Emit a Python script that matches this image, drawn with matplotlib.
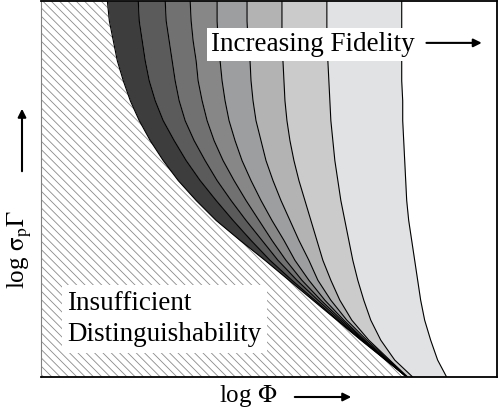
import numpy as np
import matplotlib
matplotlib.use("Agg")
import matplotlib.pyplot as plt
from matplotlib.patches import FancyArrowPatch

plt.rcParams["font.family"] = ["Liberation Serif", "DejaVu Serif"]
plt.rcParams["mathtext.fontset"] = "stix"
plt.rcParams["hatch.linewidth"] = 0.6
plt.rcParams["hatch.color"] = "#8a8a8a"

# rows of log(sigma_p Gamma), arbitrary units (0 = bottom of plot, 377 = top)
log_sg = [377, 357, 337, 317, 297, 277, 257, 237, 217, 197,
          177, 157, 137, 117, 97, 77, 57, 37, 17, 0]

# log(Phi) of each contour on those rows (arbitrary units, 0..457)
edge_insufficient = [67, 69, 73, 77, 83, 90, 99, 110, 123, 138,
                     156, 176, 200, 225, 249, 273, 297, 321, 346, 367]
fid_1 = [98, 99, 102, 105, 109, 115, 123, 134, 146, 160,
         176, 193, 211, 230, 252, 275, 298, 322, 346, 367]
fid_2 = [125, 126, 129, 132, 135, 139, 145, 154, 165, 177,
         191, 206, 222, 238, 257, 278, 300, 323, 347, 367]
fid_3 = [150, 151, 153, 156, 158, 162, 167, 174, 183, 194,
         206, 219, 232, 246, 262, 281, 302, 324, 347, 367]
fid_4 = [177, 177, 178, 180, 182, 185, 189, 195, 202, 211,
         221, 232, 244, 255, 269, 285, 304, 325, 348, 367]
fid_5 = [207, 207, 208, 210, 211, 213, 216, 221, 226, 233,
         241, 250, 259, 269, 278, 291, 307, 327, 349, 367]
fid_6 = [242, 242, 242, 243, 244, 245, 247, 250, 254, 259,
         265, 271, 277, 283, 291, 300, 312, 329, 350, 368]
fid_7 = [287, 287, 287, 288, 289, 290, 291, 293, 295, 298,
         301, 305, 309, 313, 318, 324, 331, 341, 355, 373]
fid_8 = [362, 362, 362, 362, 362, 363, 363, 364, 365, 366,
         367, 369, 372, 375, 378, 381, 385, 391, 398, 407]

band_colors = ["#3d3d3d", "#5b5b5b", "#717171", "#878787",
               "#9c9ea0", "#b3b3b4", "#cbcbcc", "#e1e2e4"]

contours = [edge_insufficient, fid_1, fid_2, fid_3, fid_4,
            fid_5, fid_6, fid_7, fid_8]

fig = plt.figure(figsize=(4.98, 4.15), dpi=100)
ax = fig.add_axes([40.5 / 498, 38 / 415, 456 / 498, 376 / 415])

# hatched "insufficient" region
ax.fill_betweenx(log_sg, 0, edge_insufficient, facecolor="white",
                 edgecolor="#8a8a8a", hatch="\\\\\\\\", linewidth=0)

# fidelity bands
for i, c in enumerate(band_colors):
    ax.fill_betweenx(log_sg, contours[i], contours[i + 1], color=c, lw=0)

for cv in contours:
    ax.plot(cv, log_sg, color="black", lw=0.8)

ax.set_xlim(0, 457)
ax.set_ylim(0, 377)
ax.set_xticks([])
ax.set_yticks([])
for s in ["top", "right", "bottom"]:
    ax.spines[s].set_linewidth(1.3)
ax.spines["left"].set_color("#808080")

ax.text(171, 333, "Increasing Fidelity", fontsize=19.5, va="center", ha="left",
        bbox=dict(facecolor="white", edgecolor="none", pad=3))
ax.annotate("", xy=(445, 335), xytext=(384, 335),
            arrowprops=dict(arrowstyle="-|>", color="black", lw=1.5,
                            mutation_scale=12))

ax.text(27, 58, "Insufficient\nDistinguishability", fontsize=19.5,
        va="center", ha="left", linespacing=1.35,
        bbox=dict(facecolor="white", edgecolor="none", pad=4))

# axis labels with arrows
fig.text(248 / 498, 1 - 396 / 415, r"log $\Phi$", fontsize=18,
         ha="center", va="center")
fig.add_artist(FancyArrowPatch(
    (292 / 498, 1 - 397 / 415), (354 / 498, 1 - 397 / 415),
    transform=fig.transFigure, arrowstyle="-|>", mutation_scale=12,
    color="black", lw=1.5))

fig.text(20 / 498, 1 - 250 / 415, r"log $\mathrm{\sigma}_{\mathrm{p}}\Gamma$",
         fontsize=18, rotation=90, ha="center", va="center")
fig.add_artist(FancyArrowPatch(
    (22 / 498, 1 - 174 / 415), (22 / 498, 1 - 106 / 415),
    transform=fig.transFigure, arrowstyle="-|>", mutation_scale=12,
    color="black", lw=1.5))

fig.savefig("out.png", dpi=100)
